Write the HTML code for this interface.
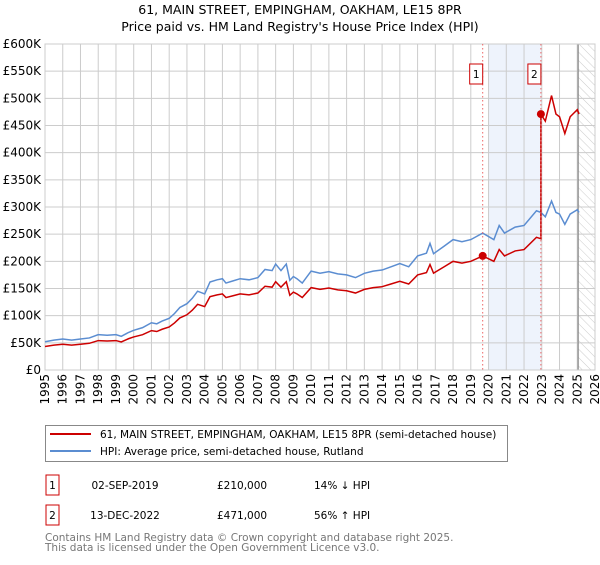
<!DOCTYPE html>
<html><head><meta charset="utf-8"><style>
body{margin:0;background:#fff;font-family:"Liberation Sans","DejaVu Sans",sans-serif;}
svg text{font-family:"DejaVu Sans","Liberation Sans",sans-serif;}
</style></head><body>
<svg id="chart" width="600" height="560" viewBox="0 0 600 560">
<defs><pattern id="hatch" width="6" height="6" patternUnits="userSpaceOnUse" patternTransform="rotate(-45)"><line x1="0" y1="0" x2="0" y2="6" stroke="#ccc" stroke-width="1"/></pattern></defs>
<text x="300" y="14" text-anchor="middle" font-size="12.5" fill="#000">61, MAIN STREET, EMPINGHAM, OAKHAM, LE15 8PR</text>
<text x="300" y="31" text-anchor="middle" font-size="12.5" fill="#000">Price paid vs. HM Land Registry's House Price Index (HPI)</text>
<g id="grid"></g><g id="marks"></g><g id="axes"></g>
<rect x="45.5" y="425.5" width="462" height="36" fill="#fff" stroke="#888"/>
<line x1="50" y1="434" x2="91" y2="434" stroke="#cc0000" stroke-width="2"/>
<text x="100" y="438" font-size="10.5">61, MAIN STREET, EMPINGHAM, OAKHAM, LE15 8PR (semi-detached house)</text>
<line x1="50" y1="451" x2="91" y2="451" stroke="#5b8dd1" stroke-width="2"/>
<text x="100" y="455" font-size="10.5">HPI: Average price, semi-detached house, Rutland</text>
<g>
<rect x="46" y="475" width="13" height="20" fill="#fff" stroke="#cc0000"/><text x="52.5" y="489" text-anchor="middle" font-size="10.5">1</text>
<text x="125" y="489" text-anchor="middle" font-size="10.5">02-SEP-2019</text>
<text x="217" y="489" font-size="10.5">£210,000</text>
<text x="314" y="489" font-size="10.5">14% ↓ HPI</text></g>
<g>
<rect x="46" y="505" width="13" height="20" fill="#fff" stroke="#cc0000"/><text x="52.5" y="519" text-anchor="middle" font-size="10.5">2</text>
<text x="125" y="519" text-anchor="middle" font-size="10.5">13-DEC-2022</text>
<text x="217" y="519" font-size="10.5">£471,000</text>
<text x="314" y="519" font-size="10.5">56% ↑ HPI</text></g>
<text x="45" y="541" font-size="10.5" fill="#777">Contains HM Land Registry data © Crown copyright and database right 2025.</text>
<text x="45" y="551" font-size="10.5" fill="#777">This data is licensed under the Open Government Licence v3.0.</text>
</svg>
<script>
const hpiYears=[1995,1995.5,1996,1996.5,1997,1997.5,1998,1998.5,1999,1999.3,1999.7,2000,2000.5,2001,2001.3,2001.6,2002,2002.3,2002.6,2003,2003.3,2003.6,2004,2004.3,2004.7,2005,2005.2,2005.6,2006,2006.5,2007,2007.4,2007.8,2008,2008.3,2008.6,2008.8,2009,2009.2,2009.5,2010,2010.5,2011,2011.5,2012,2012.5,2013,2013.5,2014,2014.5,2015,2015.5,2016,2016.5,2016.7,2016.9,2017.5,2018,2018.5,2019,2019.67,2020.3,2020.6,2020.9,2021.5,2022,2022.7,2022.95,2023.2,2023.55,2023.8,2024,2024.3,2024.6,2025,2025.1];
const hpiValues=[52,55,57,55,57,59,65,64,65,62,69,73,78,87,85,90,95,104,115,122,132,145,140,162,166,168,160,164,168,166,170,185,183,195,183,195,165,172,168,160,182,178,181,177,175,170,178,182,184,190,196,190,210,215,233,214,228,240,236,240,252,240,266,252,263,266,293,290,282,311,290,287,268,287,295,290];
const saleYears=[2019.67,2022.95];
const salePrices=[210,471];
const yTicks=[0,50,100,150,200,250,300,350,400,450,500,550,600];
const yTickLabels=["£0","£50K","£100K","£150K","£200K","£250K","£300K","£350K","£400K","£450K","£500K","£550K","£600K"];
const xTicks=[1995,1996,1997,1998,1999,2000,2001,2002,2003,2004,2005,2006,2007,2008,2009,2010,2011,2012,2013,2014,2015,2016,2017,2018,2019,2020,2021,2022,2023,2024,2025,2026];
const NS='http://www.w3.org/2000/svg';
const X0=45,X1=595,Y0=370,Y1=44;
const sx=y=>X0+(y-1995)/(2026-1995)*(X1-X0);
const sy=v=>Y0-v/600*(Y0-Y1);
function mk(tag,attrs,parent){const e=document.createElementNS(NS,tag);for(const k in attrs)e.setAttribute(k,attrs[k]);parent.appendChild(e);return e;}
const grid=document.getElementById('grid'),marks=document.getElementById('marks'),axes=document.getElementById('axes');
const bg=mk('rect',{x:X0,y:Y1,width:X1-X0,height:Y0-Y1,fill:'#fff'},grid);


const shade=mk('rect',{x:sx(2020),y:Y1,width:sx(saleYears[1])-sx(2020),height:Y0-Y1,fill:'#eef3fc'},grid);


const hat=mk('rect',{x:sx(2025.05),y:Y1,width:X1-sx(2025.05),height:Y0-Y1,fill:'url(#hatch)'},grid);


yTicks.forEach((v,i)=>{
 mk('line',{x1:X0,x2:X1,y1:sy(v),y2:sy(v),stroke:'#ccc'},grid);
 const t=mk('text',{x:X0-4,y:sy(v)+4,'text-anchor':'end','font-size':'12',fill:'#000'},axes);
 t.textContent=yTickLabels[i];
 
 
});
xTicks.forEach(y=>{
 mk('line',{x1:sx(y),x2:sx(y),y1:Y1,y2:Y0,stroke:'#ccc'},grid);
 const t=mk('text',{x:0,y:0,'text-anchor':'end','font-size':'12',fill:'#000',transform:`translate(${sx(y)+4},374) rotate(-90)`},axes);
 t.textContent=y;
 
 
});
const vl=mk('line',{x1:sx(2025.05),x2:sx(2025.05),y1:Y1,y2:Y0,stroke:'#888','stroke-width':1.2},grid);


mk('rect',{x:X0,y:Y1,width:X1-X0,height:Y0-Y1,fill:'none',stroke:'#ccc'},grid);
function hpiAt(y){for(let i=0;i<hpiYears.length-1;i++){if(y<=hpiYears[i+1]){const f=(y-hpiYears[i])/(hpiYears[i+1]-hpiYears[i]);return hpiValues[i]+f*(hpiValues[i+1]-hpiValues[i]);}}return hpiValues[hpiValues.length-1];}
const r1=salePrices[0]/hpiAt(saleYears[0]), r2=salePrices[1]/hpiAt(saleYears[1]);
const redPts=[];
hpiYears.forEach((y,i)=>{
 if(y<saleYears[1]) redPts.push([y,hpiValues[i]*r1]);
 if(y>=saleYears[1]) redPts.push([y,hpiValues[i]*r2]);
});
redPts.push([saleYears[1],hpiAt(saleYears[1])*r1]);redPts.push([saleYears[1],salePrices[1]]);
redPts.sort((a,b)=>a[0]-b[0]||(a[1]-b[1]));
const bp=mk('polyline',{points:hpiYears.map((y,i)=>sx(y)+','+sy(hpiValues[i])).join(' '),fill:'none',stroke:'#5b8dd1','stroke-width':1.5},marks);


const rp=mk('polyline',{points:redPts.map(p=>sx(p[0])+','+sy(p[1])).join(' '),fill:'none',stroke:'#cc0000','stroke-width':1.5},marks);


saleYears.forEach((y,i)=>{
 const l=mk('line',{x1:sx(y),x2:sx(y),y1:Y1,y2:Y0,stroke:'#ee6666','stroke-dasharray':'1.5,2.5'},marks);
 
 
 const c=mk('circle',{cx:sx(y),cy:sy(salePrices[i]),r:4,fill:'#cc0000'},marks);
 
 
 const b=mk('rect',{x:sx(y)-13,y:64,width:13,height:20,fill:'#fff',stroke:'#cc0000'},marks);
 
 
 const t=mk('text',{x:sx(y)-6.5,y:78,'text-anchor':'middle','font-size':'10.5'},marks);
 t.textContent=String(i+1);
 
 
});
</script>
</body></html>
